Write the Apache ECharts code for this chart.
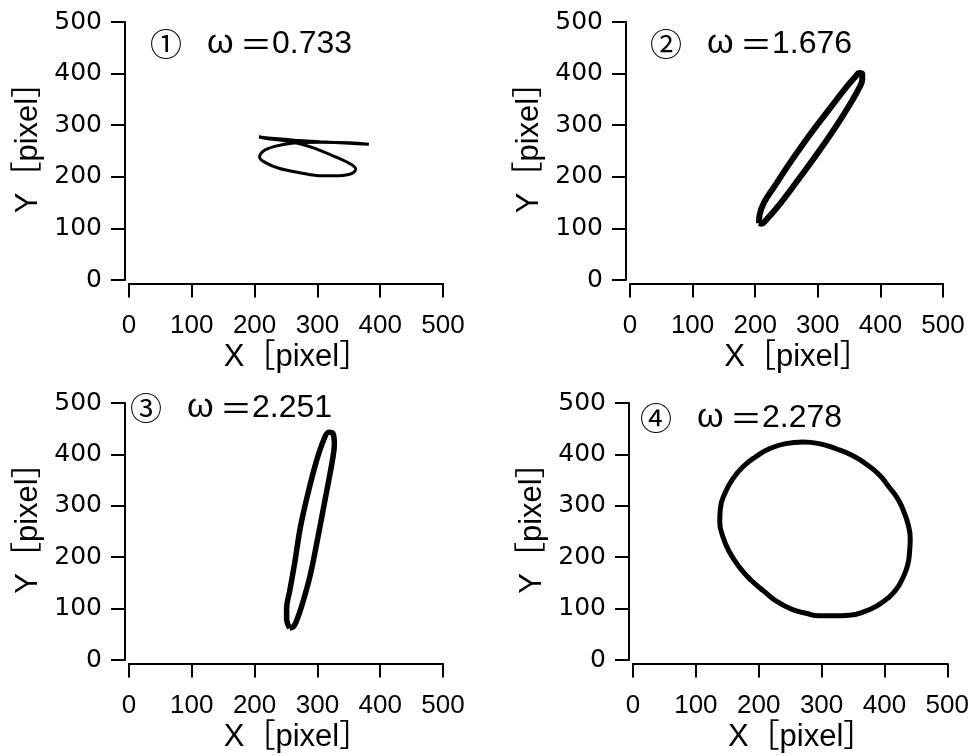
<!DOCTYPE html>
<html>
<head>
<meta charset="utf-8">
<script src="https://cdn.jsdelivr.net/npm/echarts@6/dist/echarts.min.js"></script>
<style>
html, body { margin: 0; padding: 0; background: #fff; }
#main { width: 972px; height: 756px; }
</style>
</head>
<body>
<div id="main"></div>
<script>
// axis range shared by all four panels
var axisMin = 0;
var axisMax = 500;
var axisStep = 100;

var panelNumbers = ['\u2460', '\u2461', '\u2462', '\u2463'];
var omegaValues = ['0.733', '1.676', '2.251', '2.278'];
var xName = 'X\uff3bpixel\uff3d';
var yName = 'Y\uff3bpixel\uff3d';

// traced trajectories [x, y] in pixel units
var curve1 = [[382,263],[351,265],[304,268],[264,271],[232,274],[207,277],[224,273],[248,270],[272,264],[296,255],[328,239],[351,226],[361,215],[357,208],[348,204],[334,202],[307,202],[272,208],[240,216],[218,227],[208,238],[214,250],[232,259],[259,265],[304,267],[351,266],[382,263]];
var curve2 = [[206,110],[207,126],[214,150],[230,180],[255,226],[287,281],[319,332],[345,373],[360,394],[366,401],[371,399],[371,388],[366,372],[357,352],[332,303],[301,248],[266,190],[236,142],[218,117],[210,109],[206,110]];
var curve3 = [[256,62],[251,80],[251,100],[256,135],[264,190],[273,259],[285,324],[298,385],[310,428],[318,443],[325,440],[327,420],[324,389],[313,317],[301,240],[288,162],[275,105],[268,80],[262,65],[256,62]];
var curve4 = [[270,424],[296,421],[323,411],[349,398],[370,382],[392,360],[407,337],[421,314],[431,288],[438,262],[441,236],[440,211],[437,185],[429,159],[418,136],[405,120],[389,106],[370,95],[344,87],[318,86],[296,86],[275,91],[254,98],[230,113],[209,133],[188,155],[169,181],[153,211],[143,240],[138,269],[139,295],[146,324],[159,353],[175,376],[196,396],[217,411],[243,421],[270,424]];

var curves = [curve1, curve2, curve3, curve4];
var lineWidths = [3, 6, 5.5, 5];
var smoothing = [0.35, 0.4, 0.4, 0.5];

var grids = [
	{ left: 129, top: 22, width: 314, height: 258 },
	{ left: 630, top: 22, width: 313, height: 258 },
	{ left: 129, top: 403, width: 314, height: 257 },
	{ left: 633, top: 403, width: 315, height: 257 }
];
var titlePos = [[150, 27], [650, 27], [130, 391], [640, 401]];

var nameStyle = {
	color: '#000',
	fontSize: 31,
	fontFamily: 'Liberation Sans, "Noto Sans CJK JP"',
	padding: [0, 0, 0, 22]
};

var xAxes = [];
var yAxes = [];
var series = [];
var graphics = [];

for (var i = 0; i < 4; i++) {
	xAxes.push({
		type: 'value',
		gridIndex: i,
		min: axisMin,
		max: axisMax,
		interval: axisStep,
		offset: 3.5,
		splitLine: { show: false },
		axisLine: { onZero: false, lineStyle: { color: '#000', width: 2 } },
		axisTick: { length: 14, lineStyle: { color: '#000', width: 2 } },
		axisLabel: { color: '#000', fontSize: 26, fontFamily: 'Liberation Sans', margin: 29 },
		name: xName,
		nameLocation: 'middle',
		nameGap: 58,
		nameTextStyle: nameStyle
	});
	yAxes.push({
		type: 'value',
		gridIndex: i,
		min: axisMin,
		max: axisMax,
		interval: axisStep,
		offset: 4,
		splitLine: { show: false },
		axisLine: { onZero: false, lineStyle: { color: '#000', width: 2 } },
		axisTick: { length: 14, lineStyle: { color: '#000', width: 2 } },
		axisLabel: { color: '#000', fontSize: 25, fontFamily: 'DejaVu Sans', margin: 23 },
		name: yName,
		nameLocation: 'middle',
		nameGap: 81,
		nameTextStyle: nameStyle
	});
	series.push({
		type: 'line',
		xAxisIndex: i,
		yAxisIndex: i,
		data: curves[i],
		showSymbol: false,
		smooth: smoothing[i],
		lineStyle: { color: '#000', width: lineWidths[i] },
		animation: false
	});
	graphics.push({
		type: 'text',
		left: titlePos[i][0],
		top: titlePos[i][1],
		style: {
			text: '{n|' + panelNumbers[i] + '}{w|\u03c9}{e|\uff1d}{v|' + omegaValues[i] + '}',
			fill: '#000',
			fontSize: 32,
			fontFamily: 'Liberation Sans',
			rich: {
				n: { width: 57, fontSize: 32, fontFamily: '"Noto Sans CJK JP"', fill: '#000' },
				w: { width: 33, fontSize: 34, fontFamily: 'Liberation Sans', fill: '#000' },
				e: { width: 32, fontSize: 32, fontFamily: '"Noto Sans CJK JP"', fill: '#000' },
				v: { fontSize: 32, fontFamily: 'Liberation Sans', fill: '#000' }
			}
		}
	});
}

var chart = echarts.init(document.getElementById('main'));
chart.setOption({
	animation: false,
	backgroundColor: '#fff',
	grid: grids,
	xAxis: xAxes,
	yAxis: yAxes,
	series: series,
	graphic: graphics
});
</script>
</body>
</html>
